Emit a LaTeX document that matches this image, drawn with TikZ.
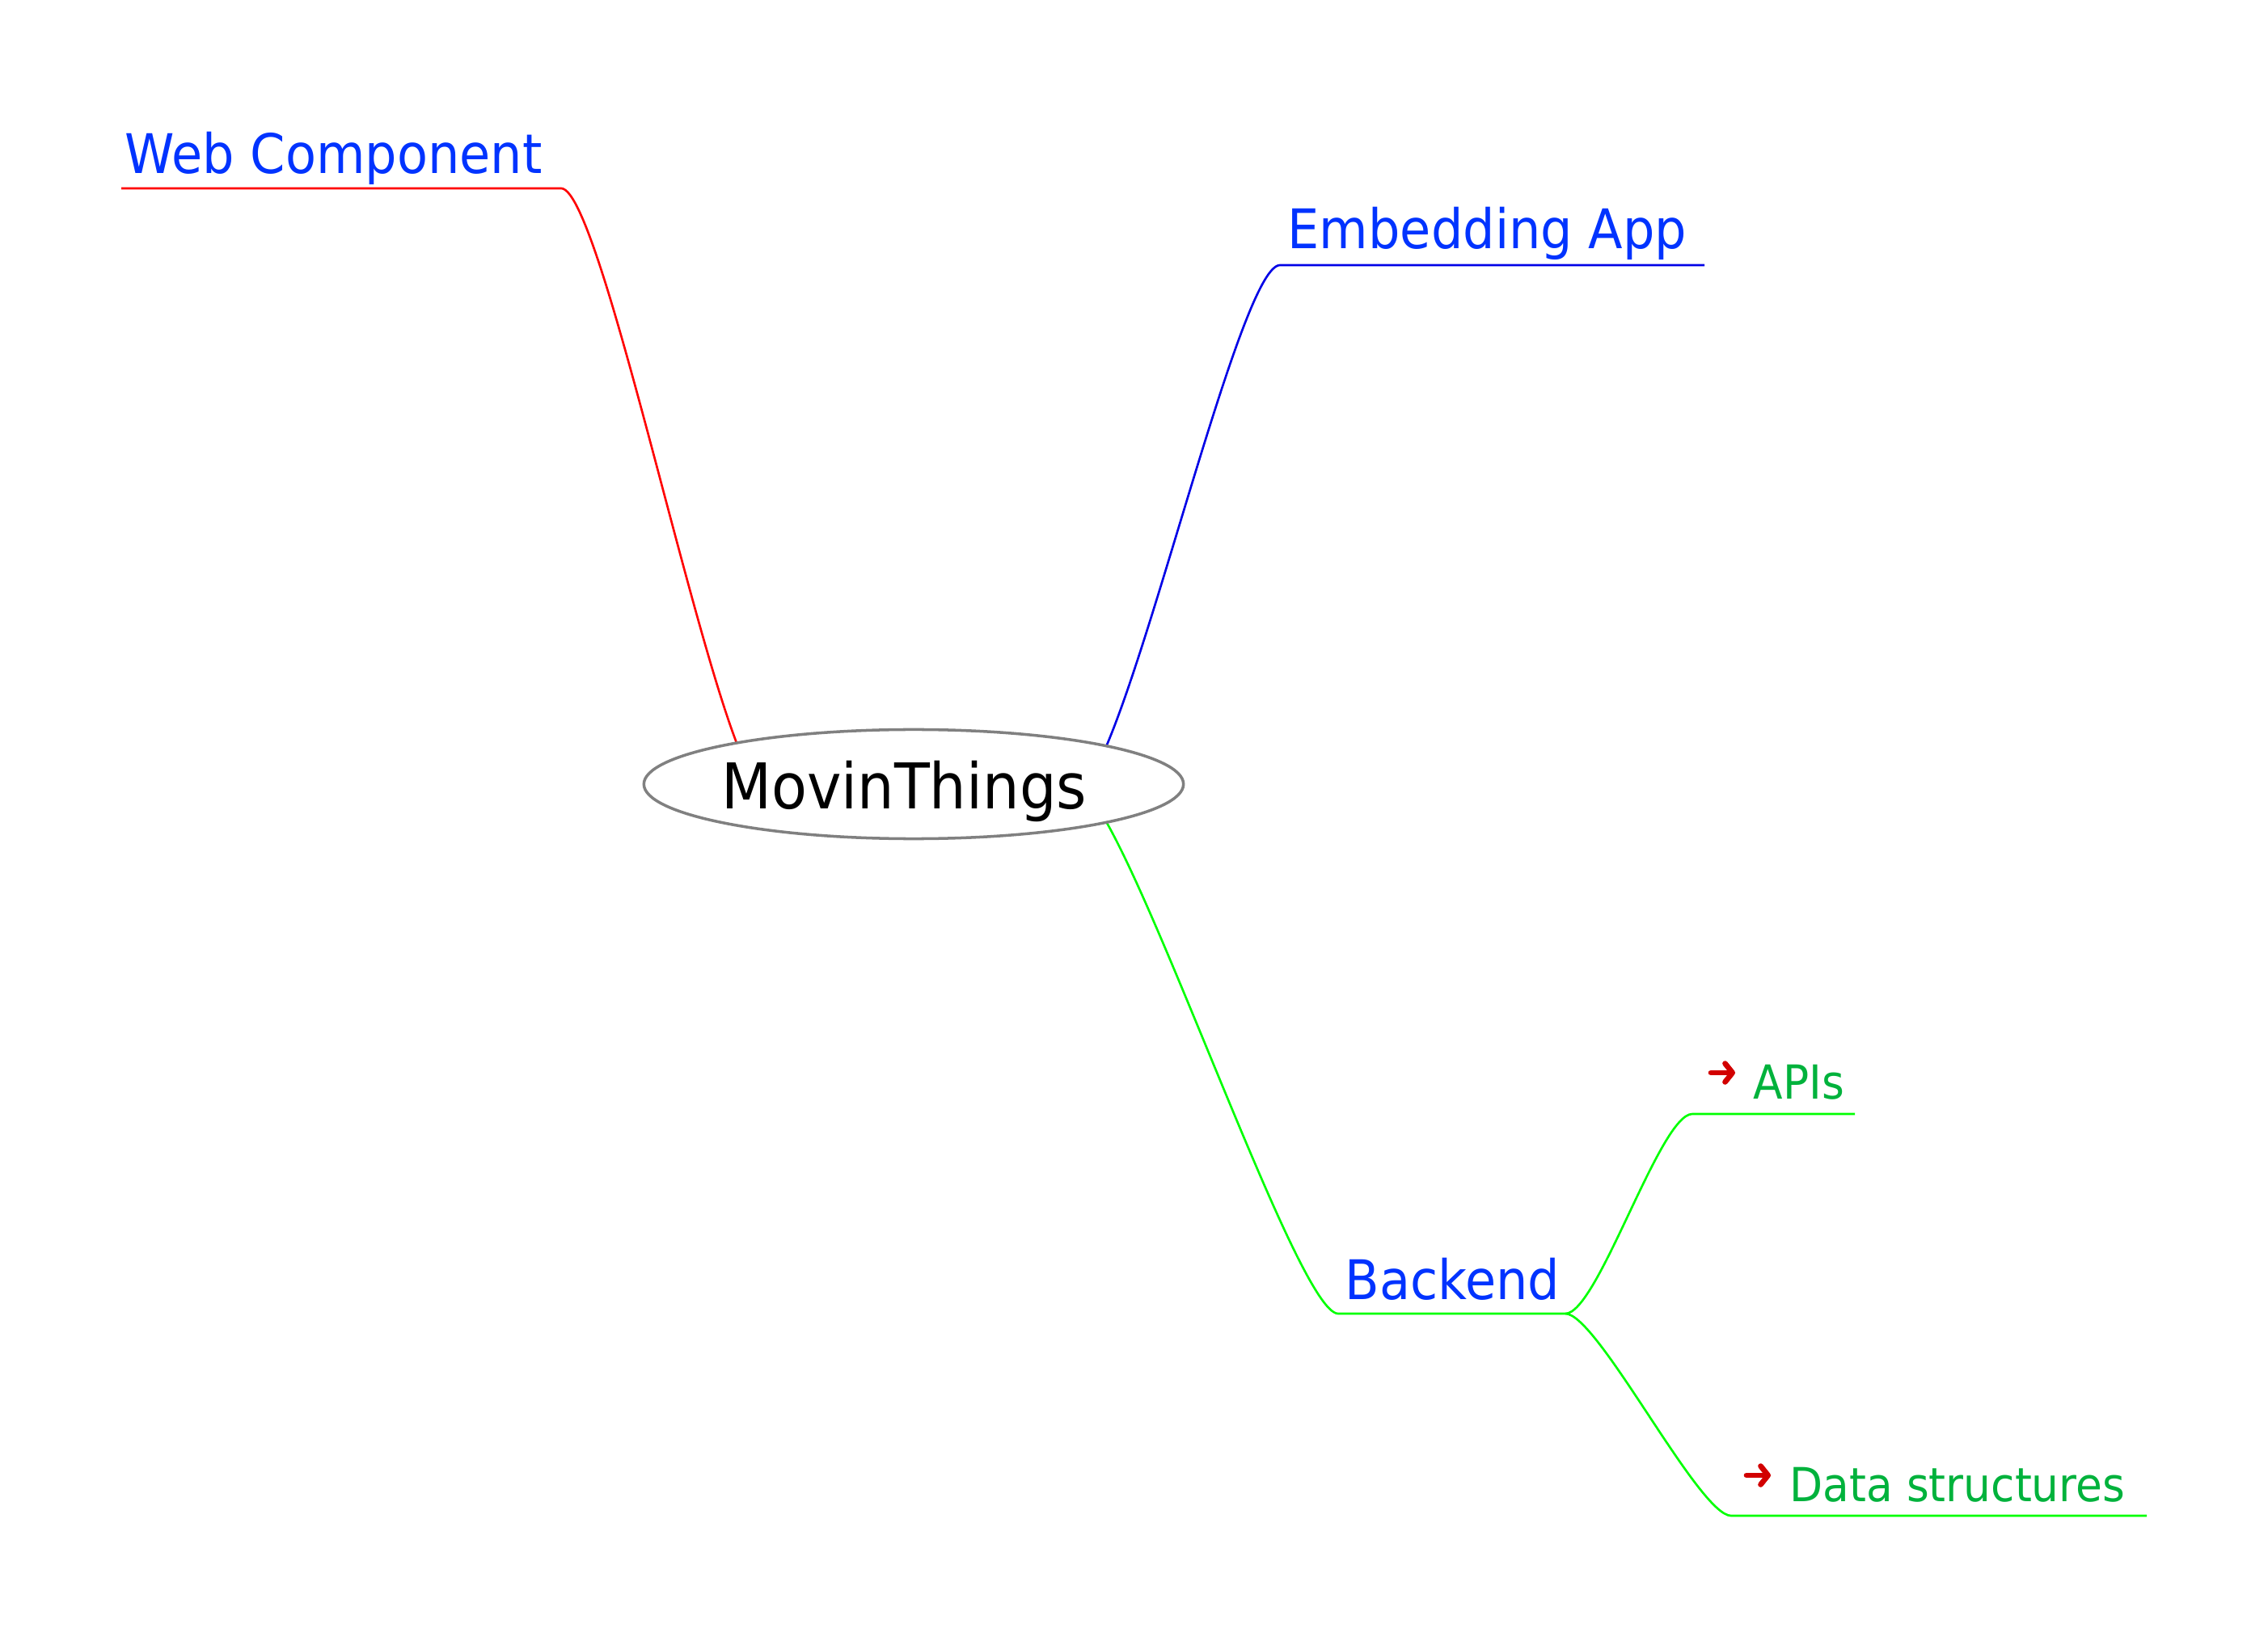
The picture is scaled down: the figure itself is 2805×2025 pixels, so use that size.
\documentclass[tikz,border=0pt]{standalone}
\usepackage{fontspec}
\setmainfont{DejaVu Sans}[FakeStretch=0.92]
\usetikzlibrary{arrows.meta,shapes.geometric,backgrounds}
\definecolor{txtblue}{RGB}{0,51,255}
\definecolor{txtgreen}{RGB}{0,178,60}
\definecolor{lnred}{RGB}{255,0,0}
\definecolor{lnblue}{RGB}{0,0,230}
\definecolor{lngreen}{RGB}{0,255,0}
\definecolor{arrred}{RGB}{210,0,0}
\definecolor{rootgray}{RGB}{128,128,128}
\begin{document}
\begin{tikzpicture}[x=0.01cm,y=-0.01cm,
  edge/.style={line width=0.75pt},
  topic/.style={anchor=base west, inner sep=0pt, text=txtblue, font=\fontsize{19.2}{22}\selectfont},
  leaf/.style={anchor=base west, inner sep=0pt, text=txtgreen, font=\fontsize{16.5}{20}\selectfont},
  icon/.style={draw=arrred, line width=1.9pt, line cap=round, line join=round,
    -{Straight Barb[length=2.6pt,width=6.5pt,line join=round,line cap=round]}},
  rootnode/.style={ellipse, draw=rootgray, line width=1pt, fill=white, inner sep=0pt,
    minimum width=6.67cm, minimum height=1.35cm},
  roottext/.style={inner sep=0pt, anchor=base, font=\fontsize{22.2}{26}\selectfont}]
\useasboundingbox (0,0) rectangle (2805,2025);

% root
\node[rootnode] (root) at (1130,970) {};
\node[roottext] (rootlabel) at (1118,1001) {MovinThings};
\coordinate (rootW) at (945,975);
\coordinate (rootE) at (1333,975);

% topics
\node[topic] (wc) at (154,215) {Web Component};
\coordinate (wcL) at (150,233);
\coordinate (wcR) at (694,233);

\node[topic] (ea) at (1592,308) {Embedding App};
\coordinate (eaL) at (1583,328);
\coordinate (eaR) at (2108,328);

\node[topic] (be) at (1663,1607) {Backend};
\coordinate (beL) at (1655,1625);
\coordinate (beR) at (1936,1625);

% leaves
\coordinate (apiA1) at (2116,1327);
\coordinate (apiA2) at (2146,1327);
\node[leaf] (api) at (2168,1359) {APIs};
\coordinate (apiL) at (2093,1378);
\coordinate (apiR) at (2294,1378);

\coordinate (dsA1) at (2160,1825);
\coordinate (dsA2) at (2190,1825);
\node[leaf] (ds) at (2213,1857) {Data structures};
\coordinate (dsL) at (2141,1875);
\coordinate (dsR) at (2655,1875);

\draw[icon] (apiA1) -- (apiA2);
\draw[icon] (dsA1) -- (dsA2);

\begin{scope}[on background layer]
  \draw[edge, draw=lnred] (wcL) -- (wcR) .. controls +(54,0) and +(-54,0) .. (rootW);
  \draw[edge, draw=lnblue] (eaR) -- (eaL) .. controls +(-54,0) and +(54,0) .. (rootE);
  \draw[edge, draw=lngreen] (beR) -- (beL) .. controls +(-54,0) and +(54,0) .. (rootE);
  \draw[edge, draw=lngreen] (beR) .. controls +(40,0) and +(-40,0) .. (apiL) -- (apiR);
  \draw[edge, draw=lngreen] (beR) .. controls +(40,0) and +(-40,0) .. (dsL) -- (dsR);
\end{scope}
\end{tikzpicture}
\end{document}
